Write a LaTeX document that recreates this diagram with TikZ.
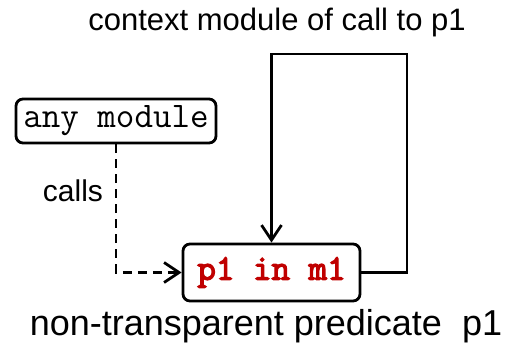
\documentclass[tikz,border=0pt]{standalone}
\usepackage{fontspec}
\setmainfont{Liberation Sans}
\newfontfamily\boldmono[AutoFakeBold=3.5]{Latin Modern Mono}
\usetikzlibrary{arrows.meta}
\definecolor{predred}{RGB}{192,0,0}
\begin{document}
\begin{tikzpicture}[x=1pt,y=-1pt,
  box/.style={draw,line width=2.8pt,rounded corners=7pt,inner sep=0pt},
  conn/.style={line width=2.8pt},
  tip/.style={-{Straight Barb[length=15pt,width=20pt,line width=2.8pt]}},
  dsh/.style={dash pattern=on 9pt off 6pt}]
\useasboundingbox (0,0) rectangle (514,346);
\node[box,minimum width=200pt,minimum height=44pt,font=\ttfamily\fontsize{36}{40}\selectfont] (am) at (116,121) {any module};
\node[box,minimum width=177pt,minimum height=57pt,text=predred,font=\boldmono\bfseries\fontsize{36}{40}\selectfont] (p1) at (271.5,272.5) {p1 in m1};
\node[font=\fontsize{31}{36}\selectfont] (top) at (277,22) {context module of call to p1};
\node[font=\fontsize{30}{36}\selectfont] (calls) at (73,191) {calls};
\node[font=\fontsize{36}{42}\selectfont] (bot) at (266,326) {non-transparent predicate\ \ p1};
\coordinate (c1) at (407,54);
\draw[conn,dsh,tip] (am.south) |- (p1.west);
\draw[conn,tip] (p1.east) -| (c1) -| (p1.north);
\end{tikzpicture}
\end{document}
